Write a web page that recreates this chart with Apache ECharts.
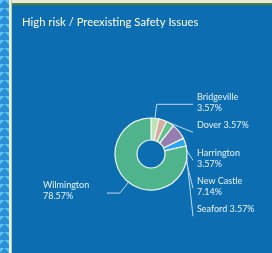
<!DOCTYPE html>
<html>
<head>
<meta charset="utf-8">
<script src="https://cdn.jsdelivr.net/npm/echarts@6/dist/echarts.min.js"></script>
<style>
  html, body { margin: 0; padding: 0; background: #0c6eb1; }
  .wrap { position: relative; width: 272px; height: 253px; overflow: hidden; background: #0c6eb1; }
  .strip {
    position: absolute; left: 0; top: 0; width: 9px; height: 253px;
    background-color: #2a8fd6;
    background-image:
      linear-gradient(135deg, #5cc0f0 25%, transparent 25%),
      linear-gradient(225deg, #5cc0f0 25%, transparent 25%);
    background-size: 9px 8px;
  }
  .edge1 { position: absolute; left: 9px; top: 0; width: 2px; height: 253px; background: #f3f1dc; }
  .edge2 { position: absolute; left: 11px; top: 0; width: 1px; height: 253px; background: #9fd3b4; }
  .topline1 { position: absolute; left: 12px; top: 0; right: 0; height: 3px; background: #ecebd6; }
  .topline2 { position: absolute; left: 12px; top: 3px; right: 0; height: 2px; background: #4e7d3e; }
  .charts { position: absolute; left: 0; top: 0; width: 272px; height: 253px; }
</style>
</head>
<body>
<div class="wrap">
  <div class="strip"></div>
  <div class="edge1"></div>
  <div class="edge2"></div>
  <div class="topline1"></div>
  <div class="topline2"></div>
  <div class="charts" id="myEchart"></div>
</div>
<script>
// 城市
var cityNames = ['Bridgeville', 'Dover', 'Harrington', 'New Castle', 'Seaford', 'Wilmington']
// 数量
var cityCounts = [1, 1, 1, 2, 1, 22]
var sliceColors = ['#bfe3b4', '#d8aba1', '#62c08f', '#977caf', '#2ea3ef', '#4fb38c']

var total = cityCounts.reduce(function (a, b) { return a + b }, 0)

var pieData = cityNames.map(function (name, i) {
    return { name: name, value: cityCounts[i], itemStyle: { color: sliceColors[i] } }
})

var myChart = echarts.init(document.getElementById('myEchart'))
myChart.setOption({
    backgroundColor: 'transparent',
    title: {
        text: 'High risk / Preexisting Safety Issues',
        left: 17,
        top: 12,
        textStyle: {
            color: '#ffffff',
            fontSize: 11.3,
            fontWeight: 'normal',
            fontFamily: 'Lato'
        }
    },
    series: [{
        type: 'pie',
        left: 43,
        right: 15,
        top: 0,
        bottom: 0,
        center: [108, 154],
        radius: [14, 36],
        startAngle: 90,
        clockwise: true,
        animation: false,
        avoidLabelOverlap: true,
        itemStyle: {
            borderColor: '#eef6f2',
            borderWidth: 1.2
        },
        label: {
            formatter: function (p) {
                return '{t|' + p.name + ' ' + (p.value / total * 100).toFixed(2) + '%}'
            },
            color: '#e9f2fa',
            fontSize: 9,
            fontFamily: 'Lato',
            width: 60,
            height: 26,
            overflow: 'break',
            lineHeight: 11,
            alignTo: 'edge',
            edgeDistance: 0,
            distanceToLabelLine: 4,
            rich: {
                t: {
                    align: 'left',
                    color: '#e9f2fa',
                    fontSize: 9,
                    fontFamily: 'Lato',
                    lineHeight: 11
                }
            }
        },
        labelLine: {
            length: 14,
            length2: 4,
            lineStyle: {
                color: '#bcd8ee',
                width: 1
            }
        },
        data: pieData
    }]
})
</script>
</body>
</html>
